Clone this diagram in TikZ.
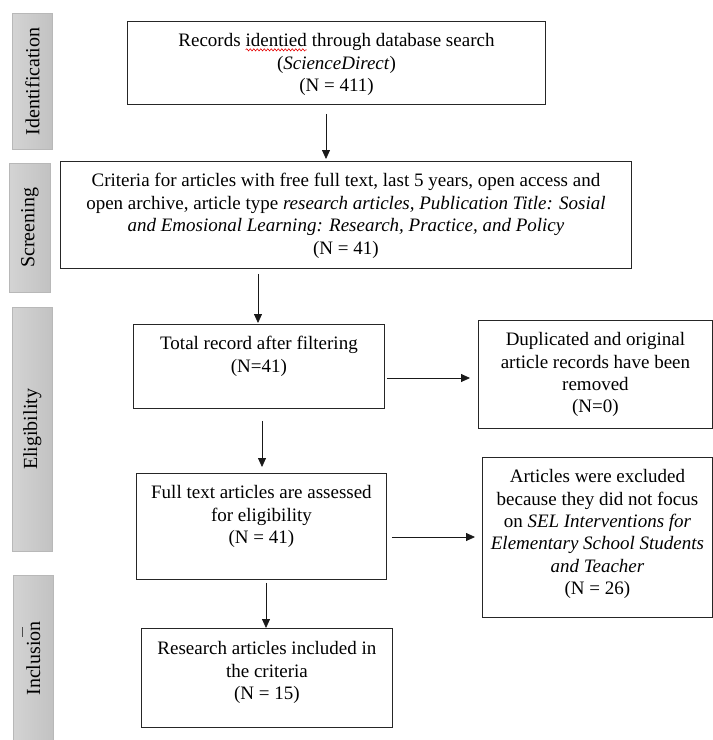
\documentclass[tikz,border=0pt]{standalone}
\usepackage{fontspec}
\setmainfont{Liberation Serif}
\usetikzlibrary{arrows.meta,decorations.pathmorphing}
\newcommand\redwave[1]{\tikz[baseline=(w.base)]{\node[inner sep=0pt,outer sep=0pt] (w) {#1}; \draw[red!90!black, line width=0.6pt, decorate, decoration={snake,amplitude=1.1pt,segment length=3.5pt}] ([yshift=-3.2pt]w.base west) -- ([yshift=-3.2pt]w.base east);}}
\newcommand\bxtext[4][12pt]{\parbox[c][#3][t]{#2}{\fontsize{19}{22.4}\selectfont\centering\vspace*{#1}#4\par}}
\tikzset{
  box/.style={draw=black!85, line width=0.9pt, inner sep=0pt, anchor=north west},
  phase/.style={draw=black!28, line width=0.8pt, left color=black!17, right color=black!24, inner sep=0pt, anchor=north west, font=\fontsize{20}{24}\selectfont},
  arr/.style={-{Triangle[length=9pt,width=8pt]}, line width=0.8pt, draw=black!90}
}
\begin{document}
\begin{tikzpicture}[x=1pt,y=-1pt]
\useasboundingbox (0,0) rectangle (713,740);
% phase bars
\node[phase, minimum width=40pt, minimum height=136pt] (p1) at (12,13) {\rotatebox{90}{Identification}};
\node[phase, minimum width=41pt, minimum height=129pt] (p2) at (9,163) {\rotatebox{90}{Screening}};
\node[phase, minimum width=40pt, minimum height=244pt] (p3) at (12,307) {\rotatebox{90}{Eligibility}};
\node[phase, minimum width=40pt, minimum height=166pt] (p4) at (13,575) {\rotatebox{90}{Inclusion}};
\draw[black!70, line width=0.6pt] (22,627) -- (22,637);
% boxes
\node[box] (b1) at (127,21) {\bxtext{418pt}{83pt}{Records \redwave{identied} through database search\\(\textit{ScienceDirect})\\(N = 411)}};
\node[box] (b2) at (60,161) {\bxtext{571pt}{107pt}{Criteria for articles with free full text, last 5 years, open access and\\open archive, article type \textit{research articles, Publication Title: Sosial}\\\textit{and Emosional Learning: Research, Practice, and Policy}\\(N = 41)}};
\node[box] (b3) at (133,324) {\bxtext{251pt}{84pt}{Total record after filtering\\(N=41)}};
\node[box] (s1) at (478,320) {\bxtext{234pt}{108pt}{Duplicated and original\\article records have been\\removed\\(N=0)}};
\node[box] (b4) at (136,473) {\bxtext{250pt}{106pt}{Full text articles are assessed\\for eligibility\\(N = 41)}};
\node[box] (s2) at (482,457) {\bxtext{230pt}{160pt}{Articles were excluded\\because they did not focus\\on \textit{SEL Interventions for}\\\textit{Elementary School Students}\\\textit{and Teacher}\\(N = 26)}};
\node[box] (b5) at (141,628) {\bxtext[13pt]{251pt}{99pt}{Research articles included in\\the criteria\\(N = 15)}};
% arrow guides
\coordinate (x1) at (326,0);
\coordinate (x2) at (258,0);
\coordinate (x3) at (262,0);
\coordinate (x4) at (266,0);
\coordinate (y1) at (0,378);
\coordinate (y2) at (0,537);
% arrows
\draw[arr, shorten <=9pt, shorten >=2pt] (b1.south -| x1) -- (b2.north -| x1);
\draw[arr, shorten <=5pt, shorten >=1pt] (b2.south -| x2) -- (b3.north -| x2);
\draw[arr, shorten <=12pt, shorten >=6pt] (b3.south -| x3) -- (b4.north -| x3);
\draw[arr, shorten <=3pt, shorten >=0pt] (b4.south -| x4) -- (b5.north -| x4);
\draw[arr, shorten <=2pt, shorten >=8pt] (b3.east |- y1) -- (s1.west |- y1);
\draw[arr, shorten <=5pt, shorten >=7pt] (b4.east |- y2) -- (s2.west |- y2);
\end{tikzpicture}
\end{document}
